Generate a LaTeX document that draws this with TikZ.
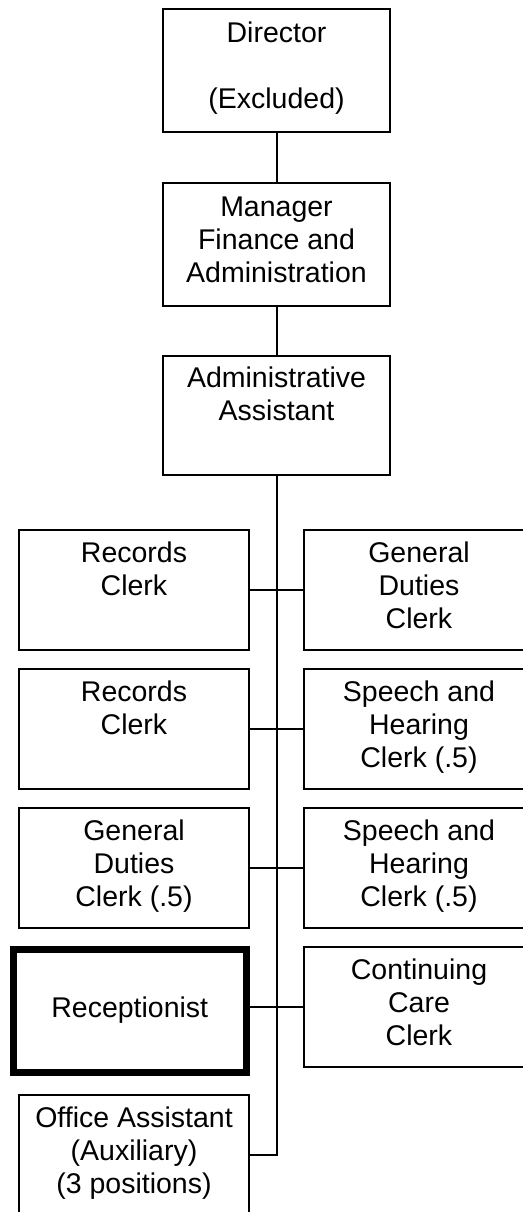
\documentclass[tikz,border=0pt]{standalone}
\usepackage{fontspec}
\setmainfont{Liberation Sans}
\tikzset{
  post/.style={draw, line width=1pt, minimum width=115pt, minimum height=60pt,
    inner sep=0pt, align=center, execute at begin node=\strut,
    execute at end node=\strut, font=\fontsize{14.25pt}{16.5pt}\selectfont},
  head/.style={post, minimum width=113.5pt},
  thick post/.style={post, line width=3.5pt, minimum width=116.75pt,
    minimum height=61.5pt}
}
\begin{document}
\begin{tikzpicture}[x=0.5pt, y=-0.5pt]
      \useasboundingbox (0,0) rectangle (523,1212);
      \clip (0,0) rectangle (523,1212);
      \draw
        (276.5,70.5) node[head, minimum height=61.5pt] (dir) {Director\\~\\(Excluded)}
        (276.5,244.5) node[head, minimum height=61.5pt] (mgr) {Manager\\Finance and\\Administration}
        (276.5,415.5) node[head, minimum height=59.5pt] (adm) {Administrative\\Assistant\\~}
        (134,590) node[post] (rc1) {Records\\Clerk\\~}
        (419,590) node[post] (gdc1) {General\\Duties\\Clerk}
        (134,729) node[post] (rc2) {Records\\Clerk\\~}
        (419,729) node[post] (shc1) {Speech and\\Hearing\\Clerk (.5)}
        (134,868) node[post] (gdc2) {General\\Duties\\Clerk (.5)}
        (419,868) node[post] (shc2) {Speech and\\Hearing\\Clerk (.5)}
        (129.75,1011) node[thick post] (rec) {Receptionist}
        (419,1007) node[post] (ccc) {Continuing\\Care\\Clerk}
        (134,1155) node[post] (oa) {Office Assistant\\(Auxiliary)\\(3 positions)};
      \begin{scope}[line width=1pt]
        \draw (dir) to (mgr);
        \draw (mgr) to (adm);
        \draw (adm.south) -- (adm.south |- oa.east) -- (oa.east);
        \draw (rc1.east) -- (gdc1.west);
        \draw (rc2.east) -- (shc1.west);
        \draw (gdc2.east) -- (shc2.west);
        \draw (rec.east |- ccc.west) -- (ccc.west);
      \end{scope}
    \end{tikzpicture}
\end{document}
